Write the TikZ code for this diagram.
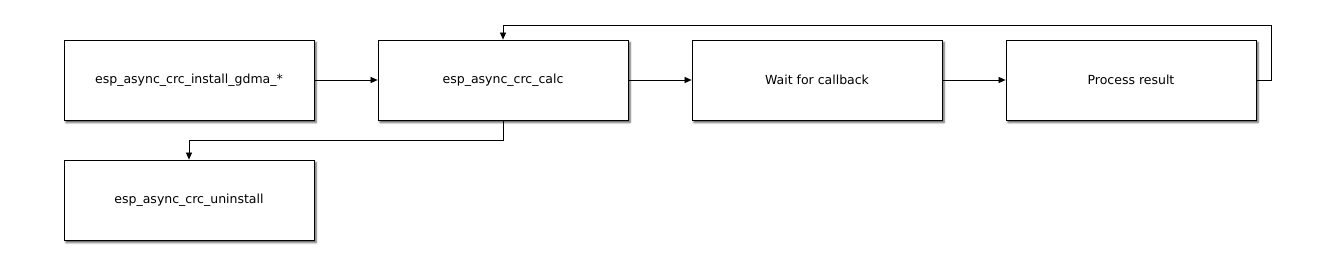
\documentclass[tikz,border=0pt]{standalone}
\usepackage{fontspec}
\setmainfont{DejaVu Sans}
\usetikzlibrary{arrows.meta,shadows.blur}

\begin{document}
\begin{tikzpicture}[x=1pt,y=-1pt,font=\fontsize{12.5}{14}\selectfont,
    stepbox/.style={draw,fill=white,line width=0.8pt,minimum width=250pt,minimum height=80pt,
      blur shadow={shadow xshift=2pt,shadow yshift=-2.5pt,shadow blur radius=2pt,shadow opacity=70}},
    flow/.style={line width=0.7pt,-{Triangle[length=7pt,width=6pt]}}]
  \useasboundingbox (0,0) rectangle (1320,280);
  % ---------- the four steps of the first row ----------
  \node[stepbox] (install) at (189,80) {esp\_async\_crc\_install\_gdma\_*};
  \node[stepbox] (calc) at (503,80) {esp\_async\_crc\_calc};
  \node[stepbox] (wait) at (817,80) {Wait for callback};
  \node[stepbox] (result) at (1131,80) {Process result};
  % ---------- the step below ----------
  \node[stepbox] (uninstall) at (189,200) {esp\_async\_crc\_uninstall};
  % ---------- connectors ----------
  \draw[flow] (install) -- (calc);
  \draw[flow] (calc) -- (wait);
  \draw[flow] (wait) -- (result);
  \draw[flow] (result.east) -- ++(15,0) |- (503,25) -- (calc.north);
  \draw[flow] (calc.south) |- (189,140) -- (uninstall.north);
\end{tikzpicture}
\end{document}
